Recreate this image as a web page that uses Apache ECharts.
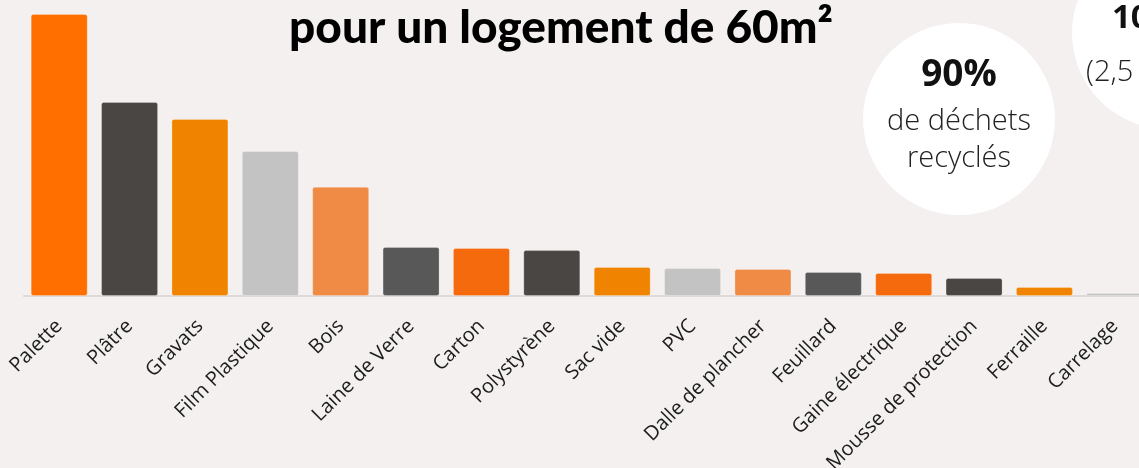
<!DOCTYPE html>
<html>
<head>
<meta charset="utf-8">
<script src="https://cdn.jsdelivr.net/npm/echarts@6/dist/echarts.min.js"></script>
<style>
  html, body { margin: 0; padding: 0; background: #f3f0ef; }
  #chart { width: 1139px; height: 468px; }
</style>
</head>
<body>
<div id="chart"></div>
<script>
// waste types, largest first
const categories = [
  'Palette', 'Plâtre', 'Gravats', 'Film Plastique', 'Bois', 'Laine de Verre',
  'Carton', 'Polystyrène', 'Sac vide', 'PVC', 'Dalle de plancher', 'Feuillard',
  'Gaine électrique', 'Mousse de protection', 'Ferraille', 'Carrelage'
]
// relative quantity (Palette = 100)
const values = [100, 68.8, 62.8, 51.4, 38.7, 17.4, 17.0, 16.3, 10.3, 9.9, 9.6, 8.5, 8.2, 6.4, 3.2, 1.1]
const barColors = [
  '#ff6f00', '#4a4643', '#f08400', '#c3c3c3', '#f08b45', '#585858', '#f56a0d',
  '#4a4643', '#f08400', '#c3c3c3', '#f08b45', '#585858', '#f56a0d',
  '#4a4643', '#f08400', '#c3c3c3'
]
const titleText = 'pour un logement de 60m²'
const bubbleMain = ['90%', 'de déchets', 'recyclés']
const bubbleSide = ['100%', '(2,5 tonnes)']

const SANS = '"Open Sans", "Noto Sans", sans-serif'

const chart = echarts.init(document.getElementById('chart'))

chart.setOption({
  backgroundColor: '#f3f0ef',
  animation: false,
  grid: {
    left: 24,
    top: 14,
    width: 1126,
    bottom: 172,
    outerBoundsMode: 'none',
    containLabel: false,
  },
  xAxis: {
    type: 'category',
    data: categories,
    axisLine: { lineStyle: { color: '#dedad8', width: 2 } },
    axisTick: { show: false },
    axisLabel: {
      rotate: 45,
      interval: 0,
      margin: 27,
      color: '#1c1c1c',
      fontFamily: SANS,
      fontSize: 20,
    },
  },
  yAxis: {
    type: 'value',
    min: 0,
    max: 100,
    show: false,
  },
  series: [
    {
      type: 'bar',
      barWidth: 57,
      data: values.map((v, i) => ({
        value: v,
        itemStyle: { color: barColors[i] },
      })),
      itemStyle: {
        borderRadius: 2,
        borderColor: 'rgba(255,255,255,0.25)',
        borderWidth: 1,
      },
    },
  ],
  graphic: [
    {
      type: 'text',
      x: 561,
      y: 28,
      style: {
        text: titleText,
        align: 'center',
        verticalAlign: 'middle',
        fill: '#000',
        font: '900 46px Lato',
      },
    },
    {
      type: 'circle',
      shape: { cx: 959, cy: 119, r: 96 },
      style: { fill: '#ffffff' },
    },
    {
      type: 'circle',
      shape: { cx: 1168, cy: 33, r: 96 },
      style: { fill: '#ffffff' },
    },
    {
      type: 'text',
      x: 959,
      y: 75,
      style: {
        text: bubbleMain[0],
        align: 'center',
        verticalAlign: 'middle',
        fill: '#111',
        font: 'bold 37px ' + SANS,
      },
    },
    {
      type: 'text',
      x: 959,
      y: 122,
      style: {
        text: bubbleMain[1],
        align: 'center',
        verticalAlign: 'middle',
        fill: '#222',
        font: '300 29px ' + SANS,
      },
    },
    {
      type: 'text',
      x: 959,
      y: 159,
      style: {
        text: bubbleMain[2],
        align: 'center',
        verticalAlign: 'middle',
        fill: '#222',
        font: '300 29px ' + SANS,
      },
    },
    {
      type: 'text',
      x: 1112,
      y: 19,
      style: {
        text: bubbleSide[0],
        align: 'left',
        verticalAlign: 'middle',
        fill: '#111',
        font: 'bold 33px ' + SANS,
      },
    },
    {
      type: 'text',
      x: 1086,
      y: 73,
      style: {
        text: bubbleSide[1],
        align: 'left',
        verticalAlign: 'middle',
        fill: '#222',
        font: '300 29px ' + SANS,
      },
    },
  ],
})

window.addEventListener('resize', () => chart.resize())
</script>
</body>
</html>
